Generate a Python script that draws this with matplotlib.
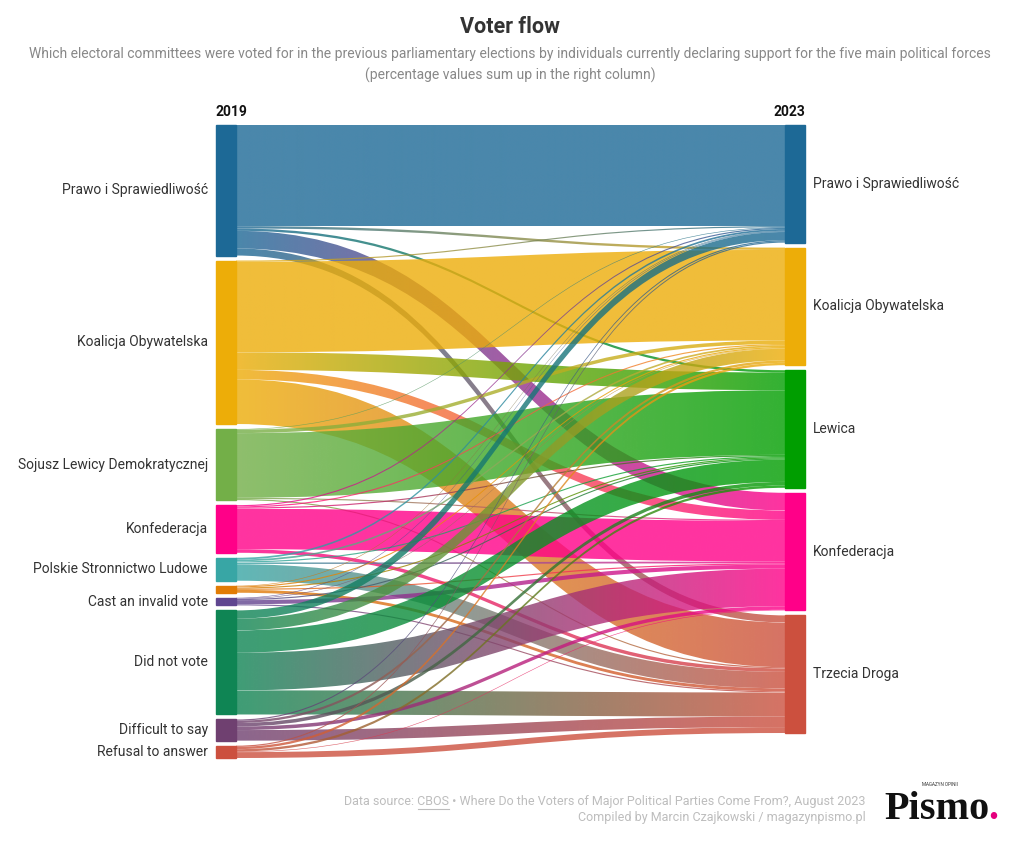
import numpy as np
import matplotlib
matplotlib.use("Agg")
import matplotlib.pyplot as plt
from matplotlib.path import Path
from matplotlib.patches import PathPatch, Rectangle
from matplotlib.colors import to_rgb

plt.rcParams['font.family'] = ['Roboto', 'DejaVu Sans']

# 2019 (left column)
sources = ["Prawo i Sprawiedliwość", "Koalicja Obywatelska", "Sojusz Lewicy Demokratycznej",
           "Konfederacja", "Polskie Stronnictwo Ludowe", "Other committee",
           "Cast an invalid vote", "Did not vote", "Difficult to say", "Refusal to answer"]
source_colors = ["#1d6996", "#edad08", "#73af48", "#ff0088", "#38a6a5", "#e17c05",
                 "#5f4690", "#0f8554", "#6f4070", "#cc503e"]
hidden_labels = ["Other committee"]  # no label shown in the original

# 2023 (right column)
targets = ["Prawo i Sprawiedliwość", "Koalicja Obywatelska", "Lewica", "Konfederacja", "Trzecia Droga"]
target_colors = ["#1d6996", "#edad08", "#009e00", "#ff0088", "#cc503e"]

# % of each 2023 electorate by 2019 choice, order of targets: PiS, KO, Lewica, Konf, TD
pis_2019 = [86, 2, 2, 15, 6]
ko_2019 = [1, 77, 15, 8, 38]
sld_2019 = [0.5, 3, 55, 1, 1]
konf_2019 = [1, 1, 1, 34.5, 3]
psl_2019 = [1.5, 1.5, 1, 1.5, 14]
other_2019 = [0.5, 1, 1, 1, 2.5]
invalid_2019 = [0.5, 0.5, 1, 3.5, 1]
didnt_vote_2019 = [7, 10, 19, 32, 20.5]
dont_know_2019 = [1, 2, 3, 3, 9]
refusal_2019 = [1, 2, 2, 0.5, 5]

flows = np.array([pis_2019, ko_2019, sld_2019, konf_2019, psl_2019, other_2019,
                  invalid_2019, didnt_vote_2019, dont_know_2019, refusal_2019])

fig = plt.figure(figsize=(10.2, 8.5), dpi=100)
ax = fig.add_axes([0, 0, 1, 1])
ax.axis("off")

# layout (pixels)
top, bottom_r, gap = 125, 733, 5
xl, xr, nw = 216, 785, 20
k = (bottom_r - top - gap * (len(targets) - 1)) / flows.sum()

src_tot = flows.sum(axis=1)
tgt_tot = flows.sum(axis=0)
src_y = top + np.concatenate([[0], np.cumsum(src_tot * k + gap)[:-1]])
tgt_y = top + np.concatenate([[0], np.cumsum(tgt_tot * k + gap)[:-1]])

# where each link sits inside its source node
src_off = src_y.copy()
links = []
for i in range(len(sources)):
    for j in range(len(targets)):
        h = flows[i, j] * k
        links.append((i, j, src_off[i], src_off[i] + h))
        src_off[i] += h
# and inside its target node (stacked in source order)
tgt_off = tgt_y.copy()
tgt_pos = {}
for j in range(len(targets)):
    for i in range(len(sources)):
        h = flows[i, j] * k
        tgt_pos[(i, j)] = (tgt_off[j], tgt_off[j] + h)
        tgt_off[j] += h

x0, x1 = xl + nw, xr
xm = (x0 + x1) / 2
for i, j, a0, a1 in links:
    b0, b1 = tgt_pos[(i, j)]
    verts = [(x0, a0), (xm, a0), (xm, b0), (x1, b0),
             (x1, b1), (xm, b1), (xm, a1), (x0, a1), (x0, a0)]
    codes = [Path.MOVETO, Path.CURVE4, Path.CURVE4, Path.CURVE4,
             Path.LINETO, Path.CURVE4, Path.CURVE4, Path.CURVE4, Path.CLOSEPOLY]
    patch = PathPatch(Path(verts, codes), facecolor="none", edgecolor="none",
                      transform=ax.transData)
    c0 = np.array(to_rgb(source_colors[i]))
    c1 = np.array(to_rgb(target_colors[j]))
    t = np.linspace(0, 1, 256)[:, None]
    grad = np.ones((1, 256, 4))
    grad[0, :, :3] = c0 * (1 - t) + c1 * t
    grad[0, :, 3] = 0.8
    y_lo, y_hi = min(a0, b0), max(a1, b1)
    im = ax.imshow(grad, extent=[x0, x1, y_hi, y_lo], aspect="auto",
                   interpolation="bilinear", zorder=1)
    im.set_clip_path(patch)

# nodes and labels
for i, name in enumerate(sources):
    ax.add_patch(Rectangle((xl, src_y[i]), nw, src_tot[i] * k,
                           color=source_colors[i], zorder=3))
    if name not in hidden_labels:
        ax.text(xl - 8, src_y[i] + src_tot[i] * k / 2, name, ha="right", va="center",
                fontsize=10, color="#333333")
for j, name in enumerate(targets):
    ax.add_patch(Rectangle((xr, tgt_y[j]), nw, tgt_tot[j] * k,
                           color=target_colors[j], zorder=3))
    ax.text(xr + nw + 8, tgt_y[j] + tgt_tot[j] * k / 2, name, ha="left", va="center",
            fontsize=10, color="#333333")

ax.text(xl, 112, "2019", ha="left", va="center", fontsize=10, fontweight="bold", color="#111111")
ax.text(xr + nw, 112, "2023", ha="right", va="center", fontsize=10, fontweight="bold", color="#111111")

# title
ax.text(510, 27, "Voter flow", ha="center", va="center", fontsize=15.5, fontweight="bold",
        color="#333333")
ax.text(510, 54, "Which electoral committees were voted for in the previous parliamentary elections "
        "by individuals currently declaring support for the five main political forces",
        ha="center", va="center", fontsize=10, color="#888888")
ax.text(510, 75, "(percentage values sum up in the right column)",
        ha="center", va="center", fontsize=10, color="#888888")

# footer
foot_c = "#bdbdbd"
rest = " • Where Do the Voters of Major Political Parties Come From?, August 2023"
ax.text(866, 802, "Data source: CBOS" + rest, ha="right", va="center", fontsize=9, color=foot_c)
ax.text(866, 818, "Compiled by Marcin Czajkowski / magazynpismo.pl", ha="right", va="center",
        fontsize=9, color=foot_c)
r = fig.canvas.get_renderer()
tmp = ax.text(0, 0, rest, fontsize=9)
w_rest = tmp.get_window_extent(r).width
tmp.remove()
tmp = ax.text(0, 0, "CBOS", fontsize=9)
w_cbos = tmp.get_window_extent(r).width
tmp.remove()
ax.plot([866 - w_rest - w_cbos, 866 - w_rest], [809, 809], color=foot_c, lw=0.8)

# logo
logo = ax.text(884, 819, "Pismo", ha="left", va="baseline", fontsize=29, fontweight="bold",
               family="Liberation Serif", color="#111111")
w_logo = logo.get_window_extent(r).width
ax.text(884 + w_logo - 1, 819, ".", ha="left", va="baseline", fontsize=29, fontweight="bold",
        family="Liberation Serif", color="#e5007e")
ax.text(940, 785, "MAGAZYN OPINII", ha="center", va="center", fontsize=3.3, color="#333333")

ax.set_xlim(0, 1020)
ax.set_ylim(850, 0)
fig.savefig("out.png", dpi=100, facecolor="white")
